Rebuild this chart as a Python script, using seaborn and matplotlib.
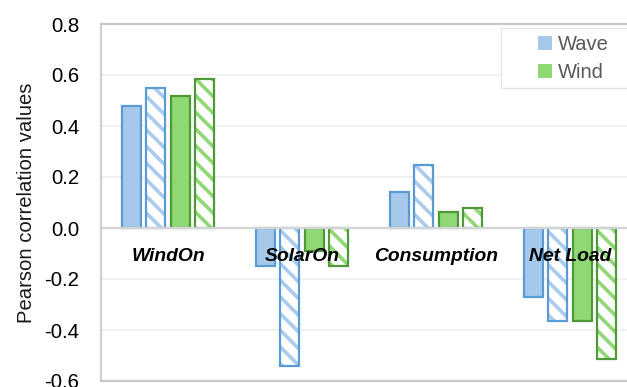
import matplotlib
matplotlib.use("Agg")
import matplotlib.pyplot as plt
import matplotlib.patches as mpatches
import seaborn as sns
import pandas as pd

categories = ["WindOn", "SolarOn", "Consumption", "Net Load"]
series = ["Wave", "Wave (hatched)", "Wind", "Wind (hatched)"]
wave_solid = [0.48, -0.15, 0.14, -0.27]
wave_hatched = [0.548, -0.54, 0.246, -0.365]
wind_solid = [0.518, -0.09, 0.062, -0.365]
wind_hatched = [0.584, -0.15, 0.078, -0.515]
yticks = [-0.6, -0.4, -0.2, 0.0, 0.2, 0.4, 0.6, 0.8]
ytick_labels = ["-0.6", "-0.4", "-0.2", "0.0", "0.2", "0.4", "0.6", "0.8"]
ylabel = "Pearson correlation values"
legend_labels = ["Wave", "Wind"]

rows = []
for s, vals in zip(series, [wave_solid, wave_hatched, wind_solid, wind_hatched]):
    for c, v in zip(categories, vals):
        rows.append({"category": c, "series": s, "value": v})
df = pd.DataFrame(rows)

sns.set_theme(style="white")
plt.rcParams["font.family"] = ["Liberation Sans", "DejaVu Sans"]
plt.rcParams["hatch.linewidth"] = 2.6

blue_fill = "#a6c8eb"
blue_edge = "#5b9bd5"
blue_hatch = "#a9cbee"
green_fill = "#8fd874"
green_edge = "#4f9a38"
green_hatch = "#8fd874"

fills = [blue_fill, "#ffffff", green_fill, "#ffffff"]
edges = [blue_edge, blue_edge, green_edge, green_edge]
hatches = [None, "\\\\", None, "\\\\"]
hatch_colors = [None, blue_hatch, None, green_hatch]

fig = plt.figure(figsize=(6.27, 3.87), dpi=100)
ax = fig.add_axes([101 / 627, 6 / 387, 536 / 627, 357 / 387])

sns.barplot(data=df, x="category", y="value", hue="series", order=categories,
            hue_order=series, palette=fills, width=0.725, gap=0.22,
            legend=False, ax=ax, zorder=3)

for i, cont in enumerate(ax.containers):
    for p in cont.patches:
        p.set_facecolor(fills[i])
        p.set_edgecolor(edges[i])
        p.set_linewidth(1.6)
        if hatches[i]:
            p.set_hatch(hatches[i])
            if hasattr(p, "set_hatchcolor"):
                p.set_hatchcolor(hatch_colors[i])
            else:
                p._hatch_color = matplotlib.colors.to_rgba(hatch_colors[i])

ax.set_xlim(-0.5, 3.5)
ax.set_ylim(-0.6, 0.8)
ax.set_yticks(yticks)
ax.set_yticklabels(ytick_labels, fontsize=14.7, color="#000000")
ax.tick_params(axis="y", length=0, pad=15.5)
ax.set_xticks([])
ax.set_xlabel("")
ax.set_ylabel(ylabel, fontsize=14.6, color="#1a1a1a", labelpad=6)

for y in yticks:
    if y not in (-0.6, 0.0, 0.8):
        ax.axhline(y, color="#efefef", lw=1.2, zorder=0)
ax.axhline(0.0, color="#d4d4d4", lw=1.6, zorder=4)

for side in ["top", "bottom", "left", "right"]:
    ax.spines[side].set_color("#c8c8c8")
    ax.spines[side].set_linewidth(1.6)
ax.spines["left"].set_color("#d0d0d0")

for i, c in enumerate(categories):
    ax.text(i, -0.112, c, ha="center", va="center", fontsize=13.9,
            fontweight="bold", fontstyle="italic", color="#000000", zorder=6)

handles = [mpatches.Patch(facecolor=blue_fill, edgecolor="none"),
           mpatches.Patch(facecolor=green_fill, edgecolor="none")]
frame = mpatches.Rectangle((501 / 627, 1 - 88 / 387), 140 / 627, 60 / 387,
                           transform=fig.transFigure, facecolor="white",
                           edgecolor="#e6e6e6", lw=1.0, zorder=5)
fig.patches.append(frame)
leg = fig.legend(handles, legend_labels, loc="upper left",
                 bbox_to_anchor=(534 / 627, 1 - 31 / 387), frameon=False,
                 fontsize=14.5, handlelength=0.68, handleheight=0.68,
                 handletextpad=0.3, labelspacing=0.45, borderpad=0.2,
                 borderaxespad=0)
for t in leg.get_texts():
    t.set_color("#595959")

fig.savefig("out.png", dpi=100)
